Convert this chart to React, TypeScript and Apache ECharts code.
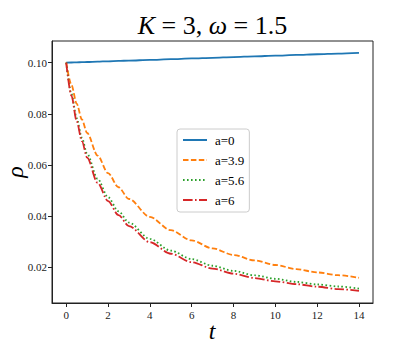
import React, { useEffect, useRef } from "react";
import * as echarts from "echarts";

const tValues = [0, 0.25, 0.5, 0.75, 1, 1.5, 2, 2.5, 3, 4, 5, 6, 7, 8, 9, 10, 11, 12, 13, 14];
const rhoA0 = [0.1, 0.10007, 0.10014, 0.1002, 0.10027, 0.10041, 0.10055, 0.10068, 0.10082, 0.1011, 0.10137, 0.10165, 0.10192, 0.1022, 0.10247, 0.10275, 0.10302, 0.1033, 0.10357, 0.10385];
const rhoA39 = [0.1, 0.0913, 0.084, 0.0778, 0.0725, 0.0637, 0.0568, 0.0513, 0.0467, 0.0397, 0.0345, 0.0305, 0.0274, 0.0248, 0.0227, 0.0209, 0.0193, 0.018, 0.0169, 0.0159];
const rhoA56 = [0.1, 0.0878, 0.0783, 0.0706, 0.0643, 0.0546, 0.0474, 0.0419, 0.0375, 0.0311, 0.0265, 0.0232, 0.0206, 0.0186, 0.0169, 0.0155, 0.0143, 0.0133, 0.0125, 0.0117];
const rhoA6 = [0.1, 0.0871, 0.0772, 0.0693, 0.0629, 0.053, 0.0459, 0.0404, 0.0361, 0.0298, 0.0253, 0.022, 0.0195, 0.0175, 0.0158, 0.0145, 0.0134, 0.0124, 0.0115, 0.0108];
const seriesNames = ["a=0", "a=3.9", "a=5.6", "a=6"];
const xTicks = [0, 2, 4, 6, 8, 10, 12, 14];
const yTicks = [0.02, 0.04, 0.06, 0.08, 0.1];

const SERIF = "Liberation Serif";

export default function App() {
  const ref = useRef<HTMLDivElement>(null);
  useEffect(() => {
    if (!ref.current) return;
    document.body.style.margin = "0";
    const chart = echarts.init(ref.current, undefined, { renderer: "svg" });
    const pairs = (ys: number[]) => tValues.map((t, i) => [t, ys[i]]);
    const lw = 1.8;
    const mk = (name: string, ys: number[], color: string, type: any) => ({
      name,
      type: "line",
      data: pairs(ys),
      symbol: "none",
      smooth: 0.3,
      smoothMonotone: "x",
      lineStyle: { color, width: lw, type },
      itemStyle: { color },
    });
    chart.setOption({
      animation: false,
      grid: {
        left: 52,
        top: 41,
        width: 321,
        height: 262,
        show: true,
        borderColor: "#222",
        borderWidth: 1,
        backgroundColor: "transparent",
      },
      xAxis: {
        type: "value",
        min: -0.68,
        max: 14.67,
        splitLine: { show: false },
        axisLine: { onZero: false, lineStyle: { color: "#222", width: 1 } },
        axisTick: { show: true, inside: false, length: 4, customValues: xTicks, lineStyle: { color: "#222" } },
        axisLabel: {
          customValues: xTicks,
          margin: 6,
          fontFamily: SERIF,
          fontSize: 11,
          color: "#222",
          formatter: (v: number) => String(v),
        },
      },
      yAxis: {
        type: "value",
        min: 0.00604,
        max: 0.10848,
        splitLine: { show: false },
        axisLine: { onZero: false, lineStyle: { color: "#222", width: 1 } },
        axisTick: { show: true, inside: false, length: 4, customValues: yTicks, lineStyle: { color: "#222" } },
        axisLabel: {
          customValues: yTicks,
          margin: 5,
          fontFamily: SERIF,
          fontSize: 11,
          color: "#222",
          formatter: (v: number) => v.toFixed(2),
        },
      },
      legend: {
        orient: "vertical",
        left: 177,
        top: 129,
        padding: [4, 5, 5, 5],
        itemGap: 6,
        itemWidth: 24,
        itemHeight: 10,
        itemStyle: { opacity: 0 },
        backgroundColor: "rgba(255,255,255,0.85)",
        borderColor: "#cccccc",
        borderWidth: 1,
        borderRadius: 3,
        data: seriesNames,
        textStyle: { fontFamily: SERIF, fontSize: 13, color: "#000", lineHeight: 14, padding: [0, 0, 0, 3] },
      },
      series: [
        mk(seriesNames[0], rhoA0, "#1f77b4", "solid"),
        mk(seriesNames[1], rhoA39, "#ff7f0e", [5.5, 2.4]),
        mk(seriesNames[2], rhoA56, "#2ca02c", [1.6, 2.4]),
        mk(seriesNames[3], rhoA6, "#d62728", [9.6, 2.4, 1.6, 2.4]),
      ],
      graphic: [
        {
          type: "text",
          x: 212.5,
          y: 25,
          style: {
            text: "{i|K} = 3, {i|ω} = 1.5",
            align: "center",
            verticalAlign: "middle",
            fontFamily: SERIF,
            fontSize: 26,
            fill: "#000",
            rich: { i: { fontStyle: "italic", fontFamily: SERIF, fontSize: 26, fill: "#000" } },
          },
        },
        {
          type: "text",
          x: 15,
          y: 172,
          rotation: Math.PI / 2,
          style: {
            text: "ρ",
            align: "center",
            verticalAlign: "middle",
            fontFamily: SERIF,
            fontStyle: "italic",
            fontSize: 24,
            fill: "#000",
          },
        },
        {
          type: "text",
          x: 212,
          y: 331,
          style: {
            text: "t",
            align: "center",
            verticalAlign: "middle",
            fontFamily: SERIF,
            fontStyle: "italic",
            fontSize: 24,
            fill: "#000",
          },
        },
      ],
    });
    return () => chart.dispose();
  }, []);
  return <div ref={ref} style={{ width: 415, height: 346 }} />;
}
